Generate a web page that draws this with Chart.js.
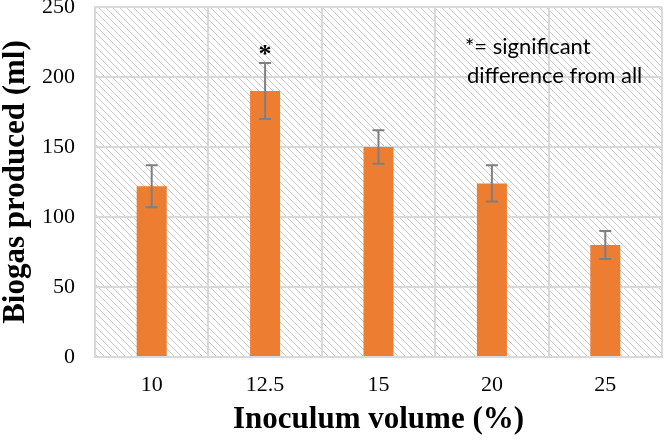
<!DOCTYPE html>
<html><head><meta charset="utf-8">
<script src="https://cdn.jsdelivr.net/npm/chart.js@4/dist/chart.umd.min.js"></script>
<style>html,body{margin:0;padding:0;background:#fff}#wrap{width:664px;height:443px}</style>
</head><body><div id="wrap"><canvas id="c" width="664" height="443"></canvas></div>
<script>
const categories = ['10', '12.5', '15', '20', '25'];
const biogas = [122, 190, 150, 124, 80];
const errors = [15, 20, 12, 13, 10];
const significant = [false, true, false, false, false];
const yTicks = [0, 50, 100, 150, 200, 250];
const noteLines = ['*= significant', 'difference from all'];

function makePattern(ctx) {
  const n = 7;
  const p = document.createElement('canvas');
  p.width = n; p.height = n;
  const g = p.getContext('2d');
  g.strokeStyle = '#c8c8c8'; g.lineWidth = 1;
  g.beginPath();
  g.moveTo(-1, -1); g.lineTo(n + 1, n + 1);
  g.moveTo(-n - 1, -1); g.lineTo(1, n + 1);
  g.moveTo(n - 1, -1); g.lineTo(2 * n + 1, n + 1);
  g.stroke();
  return ctx.createPattern(p, 'repeat');
}

const bgPlugin = {
  id: 'bg',
  beforeDraw(chart) {
    const {ctx, chartArea: a} = chart;
    ctx.save();
    ctx.fillStyle = makePattern(ctx);
    ctx.fillRect(a.left, a.top, a.right - a.left, a.bottom - a.top);
    ctx.restore();
  }
};

const errPlugin = {
  id: 'err',
  afterDatasetsDraw(chart) {
    const {ctx, scales: {x, y}, chartArea: a} = chart;
    ctx.save();
    ctx.strokeStyle = '#7f7f7f'; ctx.lineWidth = 2;
    biogas.forEach((v, i) => {
      const cx = x.getPixelForValue(i);
      const t = y.getPixelForValue(v + errors[i]);
      const b = y.getPixelForValue(v - errors[i]);
      ctx.beginPath();
      ctx.moveTo(cx, t); ctx.lineTo(cx, b);
      ctx.moveTo(cx - 6, t); ctx.lineTo(cx + 6, t);
      ctx.moveTo(cx - 6, b); ctx.lineTo(cx + 6, b);
      ctx.stroke();
      if (significant[i]) {
        ctx.fillStyle = '#000';
        ctx.font = 'bold 26px "Liberation Serif"';
        ctx.textAlign = 'center'; ctx.textBaseline = 'middle';
        ctx.fillText('*', cx, t - 8);
      }
    });
    ctx.fillStyle = '#000';
    ctx.font = '22px Lato';
    ctx.textAlign = 'left'; ctx.textBaseline = 'middle';
    ctx.fillText(noteLines[0], a.left + 370, 47);
    ctx.fillText(noteLines[1], a.left + 372, 76);
    ctx.restore();
  }
};

new Chart(document.getElementById('c'), {
  type: 'bar',
  data: {
    labels: categories,
    datasets: [{
      data: biogas,
      backgroundColor: '#ed7d31',
      borderWidth: 0,
      categoryPercentage: 1,
      barPercentage: 0.265
    }]
  },
  options: {
    responsive: false,
    animation: false,
    events: [],
    layout: {padding: {top: 7, right: 2, left: 0, bottom: 0}},
    plugins: {legend: {display: false}, tooltip: {enabled: false}},
    scales: {
      x: {
        grid: {color: '#d9d9d9', lineWidth: 2, drawTicks: false, offset: true},
        border: {color: '#d9d9d9', width: 2},
        ticks: {color: '#000', font: {family: 'Liberation Serif', size: 22}, padding: 15},
        title: {display: true, text: 'Inoculum volume (%)', color: '#000',
                font: {family: 'Liberation Serif', size: 31, weight: 'bold'}, padding: {top: 8, bottom: 4}},
        afterFit(s) { s.height = 86; s.paddingLeft = 0; s.paddingRight = 0; }
      },
      y: {
        min: 0, max: 250,
        afterBuildTicks(s) { s.ticks = yTicks.map(v => ({value: v})); },
        grid: {color: '#d9d9d9', lineWidth: 2, drawTicks: false},
        border: {color: '#d9d9d9', width: 2},
        ticks: {color: '#000', font: {family: 'Liberation Serif', size: 22}, padding: 20},
        title: {display: true, text: 'Biogas produced (ml)', color: '#000',
                font: {family: 'Liberation Serif', size: 31, weight: 'bold', lineHeight: 1}, padding: {top: 0, bottom: 0}},
        afterFit(s) { s.width = 95; s.paddingTop = 0; s.paddingBottom = 0; }
      }
    }
  },
  plugins: [bgPlugin, errPlugin]
});
</script>
</body></html>
